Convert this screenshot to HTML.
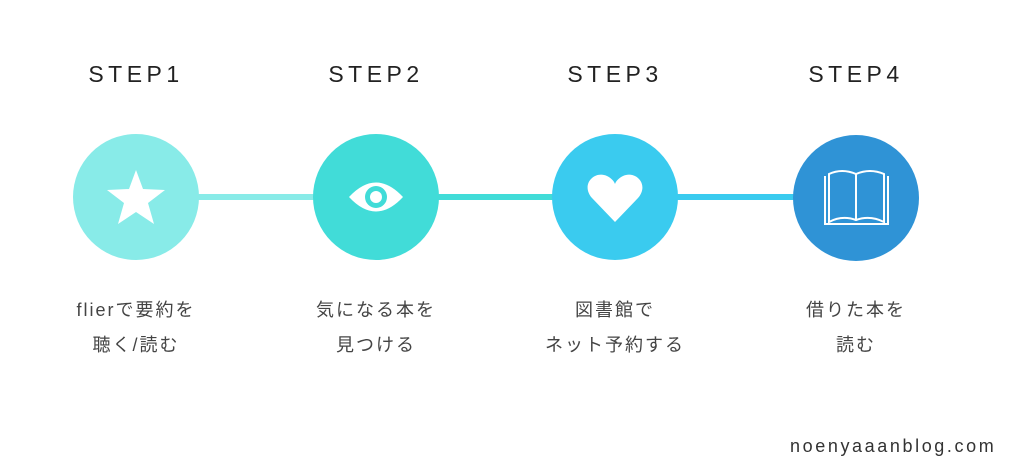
<!DOCTYPE html>
<html><head><meta charset="utf-8"><style>
body{margin:0;width:1024px;height:475px;background:#fff;position:relative;overflow:hidden;font-family:"Liberation Sans","Noto Sans CJK JP",sans-serif;}
.t{position:absolute;width:240px;text-align:center;color:#222;}
.s{top:61px;font-size:23px;letter-spacing:4.5px;}
.l{top:293px;font-size:18px;line-height:35px;color:#444;letter-spacing:2px;}
</style></head><body>
<svg width="1024" height="475" style="position:absolute;left:0;top:0">
<rect x="190" y="194" width="130" height="6" fill="#88ebe8"/>
<rect x="430" y="194" width="130" height="6" fill="#41dcd8"/>
<rect x="670" y="194" width="130" height="6" fill="#3acbef"/>
<circle cx="136" cy="197" r="63" fill="#88ebe8"/>
<circle cx="376" cy="197" r="63" fill="#41dcd8"/>
<circle cx="615" cy="197" r="63" fill="#3acbef"/>
<circle cx="856" cy="198" r="63" fill="#2f93d6"/>
<polygon points="136,170 143,189 165,190 148,203 154,224 136,212 118,224 124,203 107,190 129,189" fill="#fff"/>
<path d="M349,197 Q376,168 403,197 Q376,226 349,197Z" fill="#fff"/>
<circle cx="376" cy="197" r="11" fill="#41dcd8"/><circle cx="376" cy="197" r="6" fill="#fff"/>
<path d="M615,222 L592,198 C580,184 595,170 607,176 C611,178 614,181 615,184 C616,181 619,178 623,176 C635,170 650,184 638,198Z" fill="#fff"/>
<g fill="none" stroke="#fff" stroke-width="2">
<path d="M825,176 L825,224 L888,224 L888,176"/>
<path d="M829,222 Q842,215 856,220 Q870,215 884,222 L884,174 Q870,168 856,174 Q842,168 829,174Z"/>
<path d="M856,174 L856,220"/>
</g>
</svg>
<div class="t s" style="left:16px">STEP1</div>
<div class="t s" style="left:256px">STEP2</div>
<div class="t s" style="left:495px">STEP3</div>
<div class="t s" style="left:736px">STEP4</div>
<div class="t l" style="left:16px">flierで要約を<br>聴く/読む</div>
<div class="t l" style="left:256px">気になる本を<br>見つける</div>
<div class="t l" style="left:495px">図書館で<br>ネット予約する</div>
<div class="t l" style="left:736px">借りた本を<br>読む</div>
<div style="position:absolute;left:790px;top:436px;font-size:18px;letter-spacing:2.6px;color:#333">noenyaaanblog.com</div>
</body></html>
